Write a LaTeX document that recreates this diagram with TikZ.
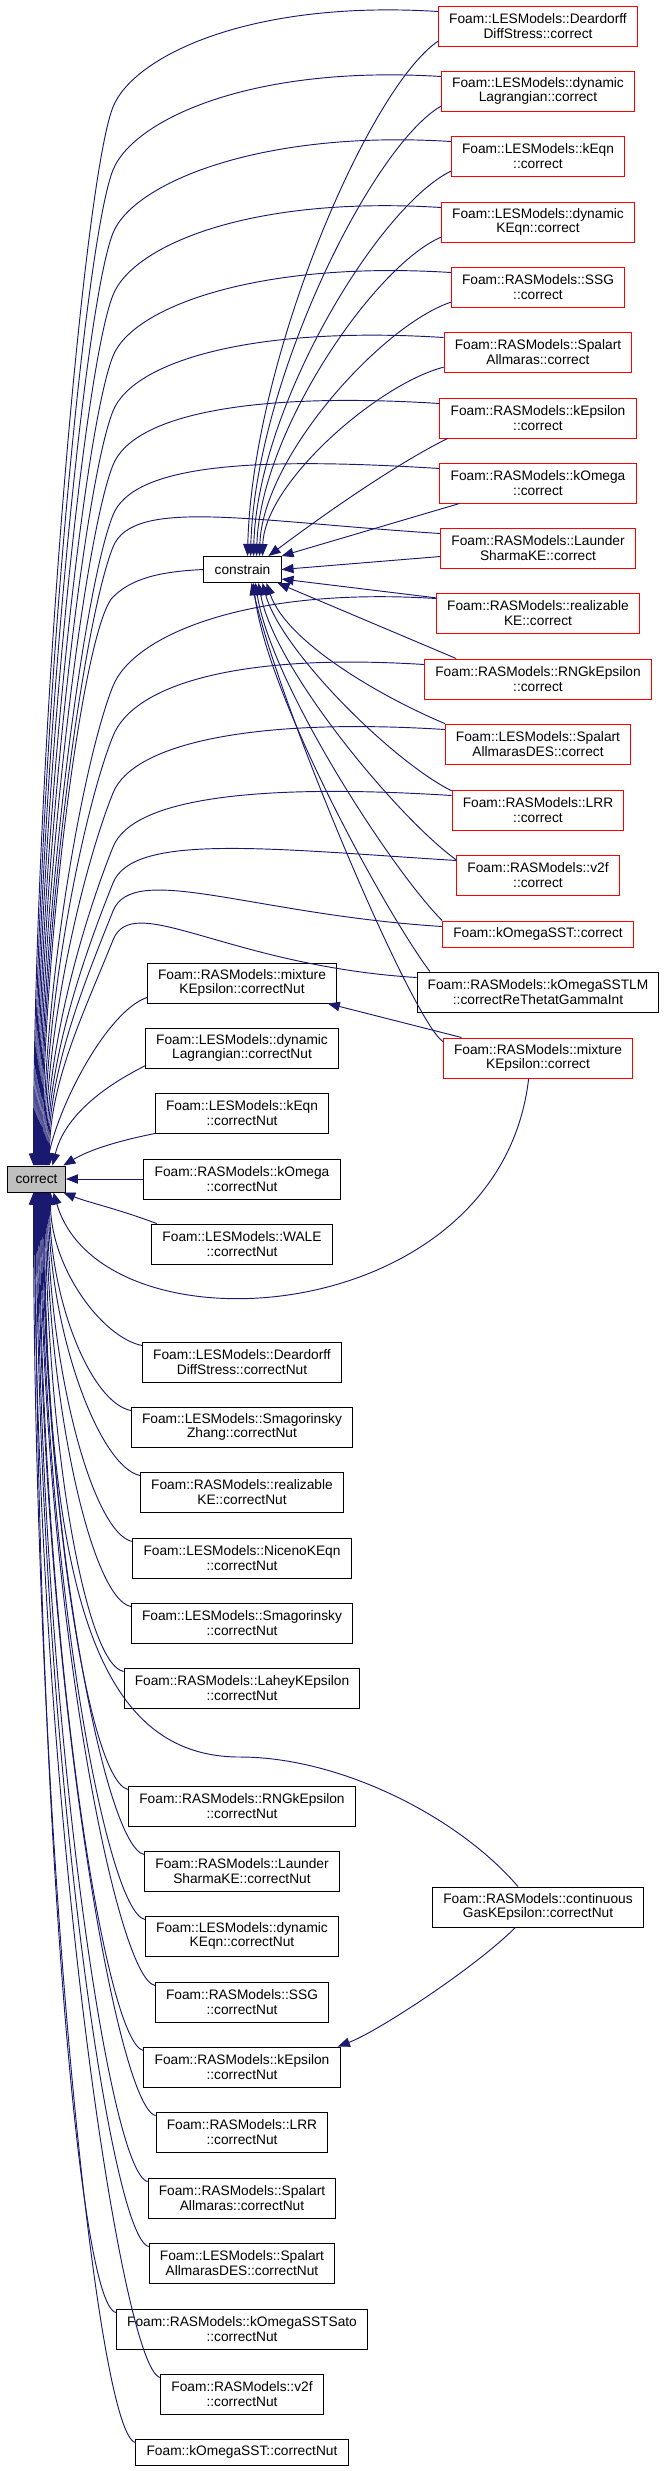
\documentclass[tikz,border=0pt]{standalone}
\usepackage{fontspec}
\setmainfont{Liberation Sans}
\usepackage{xcolor}
\usetikzlibrary{arrows.meta}

\definecolor{edgeblue}{HTML}{191970}
\definecolor{boxred}{HTML}{FF0000}
\definecolor{rootgray}{HTML}{BFBFBF}

\begin{document}
\begin{tikzpicture}[
    x=0.75pt, y=-0.75pt,
    func/.style={rectangle, draw=black, line width=0.75pt, fill=white, align=center, inner xsep=8pt, inner ysep=2pt, minimum height=30pt, font=\fontsize{10.3}{11}\selectfont},
    funcred/.style={func, draw=boxred},
    oneline/.style={minimum height=19.5pt},
    current/.style={func, fill=rootgray, oneline, inner xsep=6pt},
    calls/.style={draw=edgeblue, line width=0.7pt, -{Triangle[length=9pt, width=7pt]}}
]
\useasboundingbox (0,0) rectangle (665,2471);

% Functions
\node[current] (correct) at (36.5, 1179) {correct};
\node[func, oneline] (constrain) at (242.5, 569.5) {constrain};

\node[funcred] (dsc) at (538, 26) {Foam::LESModels::Deardorff\\DiffStress::correct};
\node[funcred] (dlc) at (538, 91) {Foam::LESModels::dynamic\\Lagrangian::correct};
\node[funcred] (kec) at (538, 156) {Foam::LESModels::kEqn\\::correct};
\node[funcred] (dkc) at (538, 222) {Foam::LESModels::dynamic\\KEqn::correct};
\node[funcred] (ssgc) at (538, 287) {Foam::RASModels::SSG\\::correct};
\node[funcred] (sac) at (538, 352) {Foam::RASModels::Spalart\\Allmaras::correct};
\node[funcred] (kepc) at (538, 418) {Foam::RASModels::kEpsilon\\::correct};
\node[funcred] (komc) at (538, 483) {Foam::RASModels::kOmega\\::correct};
\node[funcred] (lskc) at (538, 548) {Foam::RASModels::Launder\\SharmaKE::correct};
\node[funcred] (rkec) at (538, 613) {Foam::RASModels::realizable\\KE::correct};
\node[funcred] (rngc) at (538, 679) {Foam::RASModels::RNGkEpsilon\\::correct};
\node[funcred] (sadc) at (538, 744) {Foam::LESModels::Spalart\\AllmarasDES::correct};
\node[funcred] (lrrc) at (538, 810) {Foam::RASModels::LRR\\::correct};
\node[funcred] (v2fc) at (538, 875) {Foam::RASModels::v2f\\::correct};
\node[funcred, oneline] (kosc) at (538, 934) {Foam::kOmegaSST::correct};
\node[func] (lmc) at (538, 992) {Foam::RASModels::kOmegaSSTLM\\::correctReThetatGammaInt};
\node[funcred] (mkec) at (538, 1058) {Foam::RASModels::mixture\\KEpsilon::correct};
\node[func] (cgk) at (538, 1907) {Foam::RASModels::continuous\\GasKEpsilon::correctNut};

\node[func] (mkn) at (242, 983) {Foam::RASModels::mixture\\KEpsilon::correctNut};
\node[func] (dln) at (242, 1048) {Foam::LESModels::dynamic\\Lagrangian::correctNut};
\node[func] (ken) at (242, 1113) {Foam::LESModels::kEqn\\::correctNut};
\node[func] (komn) at (242, 1179) {Foam::RASModels::kOmega\\::correctNut};
\node[func] (walen) at (242, 1244) {Foam::LESModels::WALE\\::correctNut};
\node[func] (dsn) at (242, 1362) {Foam::LESModels::Deardorff\\DiffStress::correctNut};
\node[func] (szn) at (242, 1427) {Foam::LESModels::Smagorinsky\\Zhang::correctNut};
\node[func] (rken) at (242, 1492) {Foam::RASModels::realizable\\KE::correctNut};
\node[func] (nkn) at (242, 1558) {Foam::LESModels::NicenoKEqn\\::correctNut};
\node[func] (smn) at (242, 1623) {Foam::LESModels::Smagorinsky\\::correctNut};
\node[func] (lkn) at (242, 1688) {Foam::RASModels::LaheyKEpsilon\\::correctNut};
\node[func] (rngn) at (242, 1806) {Foam::RASModels::RNGkEpsilon\\::correctNut};
\node[func] (lskn) at (242, 1871) {Foam::RASModels::Launder\\SharmaKE::correctNut};
\node[func] (dkn) at (242, 1936) {Foam::LESModels::dynamic\\KEqn::correctNut};
\node[func] (ssgn) at (242, 2002) {Foam::RASModels::SSG\\::correctNut};
\node[func] (kepn) at (242, 2067) {Foam::RASModels::kEpsilon\\::correctNut};
\node[func] (lrrn) at (242, 2132) {Foam::RASModels::LRR\\::correctNut};
\node[func] (san) at (242, 2198) {Foam::RASModels::Spalart\\Allmaras::correctNut};
\node[func] (sadn) at (242, 2263) {Foam::LESModels::Spalart\\AllmarasDES::correctNut};
\node[func] (kssn) at (242, 2329) {Foam::RASModels::kOmegaSSTSato\\::correctNut};
\node[func] (v2fn) at (242, 2394) {Foam::RASModels::v2f\\::correctNut};
\node[func, oneline] (kosn) at (242, 2452) {Foam::kOmegaSST::correctNut};

% Calls into correct from the right column
\foreach \n/\k/\e in {dsc/107/-3, dlc/170/-2, kec/233/-1, dkc/295/0, ssgc/356/1, sac/411/2, kepc/465/3, komc/515/4, lskc/547/5, rkec/686/7, rngc/736/8, sadc/793/9, lrrc/847/10, v2fc/883/11, kosc/911/12, lmc/940/13} {
    \pgfmathsetmacro\h{0.38*(1160-\k)}
    \draw[calls] ([yshift=-4.5pt]\n.north west) .. controls +(-190,-12) and +(20,-50) .. (113,\k) .. controls +(-30,75) and +(0,-\h) .. ([shift={(\e,0)}]correct.north);
}
\draw[calls] (constrain.west) .. controls +(-45,2) and +(18,-18) .. (113,597) .. controls +(-30,30) and +(0,-214) .. ([shift={(6,0)}]correct.north);

% Calls into constrain
\draw[calls] ([yshift=4pt]dsc.south west) .. controls +(-69,47) and +(5,-198) .. ([shift={(5,0)}]constrain.north);
\draw[calls] ([yshift=4pt]dlc.south west) .. controls +(-69,40) and +(5,-175) .. ([shift={(8,0)}]constrain.north);
\draw[calls] ([yshift=4pt]kec.south west) .. controls +(-72,35) and +(4,-150) .. ([shift={(11,0)}]constrain.north);
\draw[calls] ([yshift=4pt]dkc.south west) .. controls +(-67,29) and +(4,-124) .. ([shift={(14,0)}]constrain.north);
\draw[calls] ([yshift=4pt]ssgc.south west) .. controls +(-69,23) and +(3,-99) .. ([shift={(17,0)}]constrain.north);
\draw[calls] ([yshift=4pt]sac.south west) .. controls +(-66,17) and +(2,-73) .. ([shift={(20,0)}]constrain.north);
\draw[calls] ([xshift=6pt]kepc.south west) .. controls +(-60,30) and +(40,-30) .. ([shift={(26,0)}]constrain.north);
\draw[calls] ([xshift=15pt]komc.south west) -- (constrain.north east);
\draw[calls] ([yshift=9pt]lskc.south west) -- (constrain.east);
\draw[calls] ([yshift=-4pt]rkec.north west) -- ([yshift=3pt]constrain.south east);
\draw[calls] ([xshift=24pt]rngc.north west) -- ([xshift=-3pt]constrain.south east);
\draw[calls] (sadc.north west) .. controls +(-60,-25) and +(20,60) .. ([shift={(24,0)}]constrain.south);
\draw[calls] ([yshift=-1pt]lrrc.north west) .. controls +(-60,-30) and +(18,67) .. ([shift={(20,0)}]constrain.south);
\draw[calls] ([yshift=-4pt]v2fc.north west) .. controls +(-57,-41) and +(16,87) .. ([shift={(16,0)}]constrain.south);
\draw[calls] (kosc.north west) .. controls +(-50,-50) and +(15,100) .. ([shift={(13,0)}]constrain.south);
\draw[calls] ([xshift=10pt]lmc.north west) .. controls +(-45,-60) and +(12,110) .. ([shift={(11,0)}]constrain.south);
\draw[calls] ([yshift=-3pt]mkec.north west) .. controls +(-30,-20) and +(30,130) .. ([shift={(9,0)}]constrain.south);

% Other calls
\draw[calls] ([xshift=-7pt]mkec.south) .. controls +(-29,252) and +(48,165) .. ([shift={(17,0)}]correct.south);
\draw[calls] ([xshift=14pt]mkec.north west) -- ([xshift=-7pt]mkn.south east);
\draw[calls] ([xshift=-15pt]cgk.north) .. controls +(-60,-70) and +(100,0) .. (240,1757) .. controls +(-140,0) and +(0,408) .. ([shift={(8,0)}]correct.south);
\draw[calls] ([xshift=-17pt]cgk.south) .. controls +(-40,40) and +(40,-15) .. ([xshift=-2pt]kepn.north east);

% Calls into correct from the middle column
\draw[calls] ([yshift=4.5pt]mkn.south west) .. controls +(-38,13) and +(14,-66) .. ([shift={(10,0)}]correct.north);
\draw[calls] ([yshift=2pt]dln.south west) .. controls +(-40,20) and +(12,-50) .. ([shift={(16,0)}]correct.north);
\draw[calls] (ken.south west) .. controls +(-40,8) and +(25,-15) .. ([xshift=-2pt]correct.north east);
\draw[calls] (komn.west) -- (correct.east);
\draw[calls] ([xshift=4pt]walen.north west) .. controls +(-40,-15) and +(25,10) .. ([xshift=-2pt]correct.south east);
\foreach \n/\t/\e in {dsn/1342/14, szn/1407/13, rken/1473/12, nkn/1538/11, smn/1603/10, lkn/1669/9, rngn/1786/7, lskn/1851/6, dkn/1916/5, ssgn/1982/4, kepn/2047/3, lrrn/2112/2, san/2178/1, sadn/2243/0, kssn/2309/-1, v2fn/2374/-2, kosn/2440/-3} {
    \pgfmathsetmacro\h{0.5*(\t-1192)}
    \draw[calls] ([yshift=-3pt]\n.north west) .. controls +(-40,-8) and +(0,\h) .. ([shift={(\e,0)}]correct.south);
}

\end{tikzpicture}
\end{document}
